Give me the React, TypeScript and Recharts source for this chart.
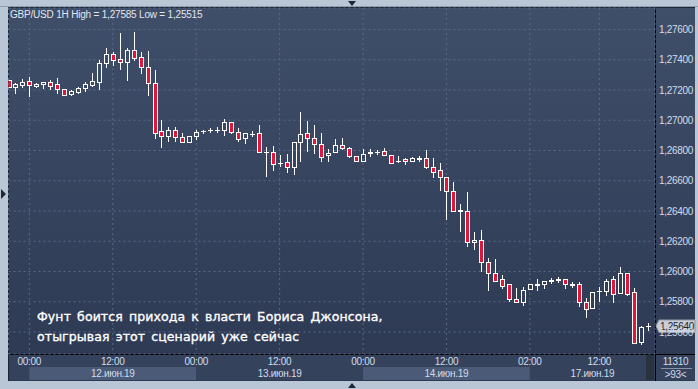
import {
  Bar,
  CartesianGrid,
  ComposedChart,
  ReferenceArea,
  ReferenceLine,
  XAxis,
  YAxis,
} from "recharts";

const RED = "#e2163a";
const WICK = "#ffffff";
const GRID = "#5a6984";
const LABEL = "#d0dcec";
const FRAME = "#b9c6d6";
const ROW = "#35425c";
const BAND = "#4b5a76";

// GBP/USD 1H, 93 visible candles (11 Jun 21:00 .. 17 Jun 19:00)
const opens = [
  1.27263, 1.27222, 1.27235, 1.2726, 1.27226, 1.27238, 1.27253, 1.2724, 1.27205, 1.27176,
  1.27189, 1.27211, 1.27233, 1.27256, 1.27377, 1.27436, 1.27403, 1.27387, 1.27462, 1.27416,
  1.2735, 1.27244, 1.26929, 1.26894, 1.26934, 1.26887, 1.26854, 1.26894, 1.26927, 1.26934,
  1.26936, 1.26936, 1.26986, 1.2692, 1.26881, 1.26909, 1.26914, 1.2679, 1.26793, 1.26715,
  1.26727, 1.26688, 1.26853, 1.26914, 1.26881, 1.26841, 1.26768, 1.26788, 1.26838, 1.26814,
  1.26762, 1.26729, 1.26785, 1.26788, 1.26795, 1.26768, 1.26731, 1.26742, 1.26729, 1.26747,
  1.26748, 1.26689, 1.26669, 1.26623, 1.26534, 1.26403, 1.26403, 1.26193, 1.26206, 1.26061,
  1.25988, 1.25948, 1.25915, 1.25816, 1.25796, 1.25881, 1.25914, 1.25915, 1.25939, 1.25947,
  1.25948, 1.25914, 1.25915, 1.25796, 1.25757, 1.2587, 1.25871, 1.25948, 1.25856, 1.25988,
  1.25862, 1.25532, 1.25638,
];
const highs = [
  1.27266, 1.27246, 1.27273, 1.27286, 1.27248, 1.27256, 1.27266, 1.27281, 1.27209, 1.272,
  1.27222, 1.27255, 1.27312, 1.27398, 1.27478, 1.27453, 1.27575, 1.27476, 1.27585, 1.27453,
  1.27458, 1.27332, 1.27002, 1.26957, 1.26957, 1.26918, 1.26899, 1.26936, 1.26936, 1.26949,
  1.26955, 1.27005, 1.26988, 1.26947, 1.26916, 1.26931, 1.26969, 1.26821, 1.2683, 1.2677,
  1.26777, 1.26856, 1.27053, 1.26995, 1.26969, 1.26914, 1.2681, 1.26876, 1.26881, 1.26825,
  1.26764, 1.26808, 1.26808, 1.26801, 1.26814, 1.2677, 1.26762, 1.26748, 1.26759, 1.26766,
  1.26803, 1.26748, 1.26717, 1.26625, 1.26592, 1.26446, 1.26526, 1.26263, 1.26274, 1.26087,
  1.26083, 1.25977, 1.25917, 1.25889, 1.25895, 1.25917, 1.25948, 1.25937, 1.25959, 1.25966,
  1.2595, 1.2593, 1.25929, 1.25823, 1.25864, 1.25899, 1.2595, 1.25972, 1.26032, 1.2599,
  1.25893, 1.2564, 1.25657,
];
const lows = [
  1.27213, 1.27172, 1.27215, 1.27156, 1.27215, 1.27207, 1.27202, 1.27176, 1.27162, 1.2716,
  1.27172, 1.27189, 1.27222, 1.27203, 1.27347, 1.27361, 1.27329, 1.27261, 1.2739, 1.27309,
  1.27162, 1.26878, 1.26818, 1.26856, 1.26856, 1.2685, 1.26848, 1.26867, 1.26909, 1.26916,
  1.26916, 1.26894, 1.26911, 1.26858, 1.26841, 1.26891, 1.26787, 1.26627, 1.26664, 1.26693,
  1.26651, 1.26638, 1.26722, 1.26792, 1.26779, 1.26722, 1.26726, 1.26787, 1.26803, 1.26748,
  1.26724, 1.26727, 1.26755, 1.2677, 1.26762, 1.26715, 1.26719, 1.26704, 1.26727, 1.26724,
  1.26676, 1.26621, 1.26534, 1.26342, 1.264, 1.26258, 1.26164, 1.26142, 1.25999, 1.25871,
  1.25932, 1.25884, 1.25796, 1.25795, 1.25774, 1.25878, 1.25873, 1.25882, 1.25915, 1.25922,
  1.25882, 1.25889, 1.25765, 1.25691, 1.25755, 1.258, 1.2584, 1.2579, 1.25854, 1.2584,
  1.25523, 1.25515, 1.25606,
];
const closes = [
  1.27218, 1.2724, 1.27253, 1.27231, 1.27242, 1.27253, 1.27228, 1.27205, 1.27169, 1.27193,
  1.27213, 1.27238, 1.2726, 1.27377, 1.27436, 1.27395, 1.27383, 1.27464, 1.27414, 1.27349,
  1.27244, 1.26914, 1.26894, 1.26934, 1.26887, 1.26854, 1.26894, 1.26922, 1.26929, 1.26936,
  1.26938, 1.26986, 1.2692, 1.26874, 1.26914, 1.26911, 1.26788, 1.26792, 1.26709, 1.26717,
  1.26688, 1.26854, 1.26907, 1.26881, 1.2684, 1.26755, 1.26781, 1.26836, 1.26814, 1.26764,
  1.26729, 1.26775, 1.26787, 1.2679, 1.26768, 1.26719, 1.26733, 1.26729, 1.26748, 1.26749,
  1.26689, 1.2666, 1.26623, 1.26529, 1.26403, 1.26405, 1.26193, 1.26208, 1.26061, 1.25988,
  1.25937, 1.25906, 1.25818, 1.25796, 1.25878, 1.25915, 1.25916, 1.25935, 1.25941, 1.25949,
  1.25915, 1.25916, 1.25796, 1.2575, 1.25862, 1.25872, 1.25939, 1.25849, 1.25988, 1.25849,
  1.25525, 1.25636, 1.2564,
];

const timeTicks = [3, 15, 27, 39, 51, 63, 75, 85];
const timeLabels = ["00:00", "12:00", "00:00", "12:00", "00:00", "12:00", "02:00", "12:00"];
const dayFrom = [3, 27, 51, 75];
const dayTo = [27, 51, 75, 93];
const dayLabels = ["12.июн.19", "13.июн.19", "14.июн.19", "17.июн.19"];
const dayShaded = [true, false, true, false];
const priceTicks = [1.276, 1.274, 1.272, 1.27, 1.268, 1.266, 1.264, 1.262, 1.26, 1.258, 1.256];
const lastPrice = 1.2564;
const title = "GBP/USD 1H High = 1,27585 Low = 1,25515";
const note = ["Фунт боится прихода к власти Бориса Джонсона,", "отыгрывая этот сценарий уже сейчас"];
const totalBars = "11310";
const shownBars = ">93<";

const Y_MIN = 1.254545;
const Y_MAX = 1.277421;
const X_MAX = 93;
// plot is 346px tall; the date strip sits 13..26px below it
const PX = (Y_MAX - Y_MIN) / 346;
const DATE_TOP = Y_MIN - 13 * PX;
const DATE_BOTTOM = Y_MIN - 26 * PX;

const rows = opens.map((o, i) => ({ i, open: o, high: highs[i], low: lows[i], close: closes[i] }));

const fmt = (v: number) => v.toFixed(5).replace(".", ",");

function Candle(props: any) {
  const { x, y, width, height, payload } = props;
  if (!payload || x == null) return null;
  const top = Math.min(y, y + height);
  const h = Math.abs(height);
  const { open, close, high, low } = payload;
  const py = (v: number) => top + ((high - v) / (high - low)) * h;
  const cx = Math.round(x + width / 2) + 0.5;
  const yH = Math.round(top);
  const yL = Math.round(top + h);
  const b1 = Math.round(py(Math.max(open, close))) + 0.5;
  const b2 = Math.round(py(Math.min(open, close))) + 0.5;
  const up = close >= open;
  if (b2 - b1 < 1) {
    return (
      <g>
        <line x1={cx} x2={cx} y1={yH} y2={yL} stroke={WICK} />
        <line x1={cx - 2.5} x2={cx + 2.5} y1={b1} y2={b1} stroke={WICK} />
      </g>
    );
  }
  return (
    <g>
      {b1 > yH && <line x1={cx} x2={cx} y1={yH} y2={b1} stroke={WICK} />}
      {yL > b2 && <line x1={cx} x2={cx} y1={b2} y2={yL} stroke={WICK} />}
      <rect x={cx - 2} y={b1} width={4} height={b2 - b1} fill={up ? "none" : RED} stroke={WICK} />
    </g>
  );
}

function PriceTag(props: any) {
  const vb = props.viewBox || {};
  const right = vb.x + vb.width;
  const yy = vb.y;
  return (
    <g>
      <polygon
        points={`${right + 1},${yy} ${right + 4},${yy - 6} ${right + 40},${yy - 6} ${right + 40},${yy + 6.5} ${right + 4},${yy + 6.5}`}
        fill="#c9ced6"
        stroke="#8e96a3"
      />
      <text x={right + 5} y={yy + 4} fill="#1b2232" fontSize={10}>
        {fmt(lastPrice)}
      </text>
    </g>
  );
}

function Tri({ left, top, dir }: { left: number; top: number; dir: "down" | "up" | "right" }) {
  const pts = dir === "down" ? "0,0 8,0 4,5" : dir === "up" ? "0,5 8,5 4,0" : "0,0 5,5 0,10";
  return (
    <svg style={{ position: "absolute", left, top }} width={dir === "right" ? 6 : 9} height={dir === "right" ? 11 : 6}>
      <polygon points={pts} fill="#1d2636" />
    </svg>
  );
}

export default function App() {
  return (
    <div
      style={{
        position: "absolute",
        left: 0,
        top: 0,
        width: 698,
        height: 389,
        background: FRAME,
        overflow: "hidden",
        fontFamily: "'Liberation Sans', Arial, sans-serif",
      }}
    >
      <div style={{ position: "absolute", left: 0, top: 6, width: 698, height: 1, background: "#8d9bb0" }} />
      <Tri left={348} top={1} dir="down" />
      <Tri left={348} top={383} dir="up" />
      <Tri left={1} top={189} dir="right" />

      {/* panel */}
      <div
        style={{
          position: "absolute",
          left: 8,
          top: 7,
          width: 687,
          height: 374,
          background: "linear-gradient(#3f4e69, #2d3953)",
          borderLeft: "1px solid #1e2636",
          borderTop: "1px solid #1e2636",
          boxSizing: "border-box",
        }}
      />
      <div style={{ position: "absolute", left: 9, top: 355, width: 646, height: 25, background: ROW }} />
      <div style={{ position: "absolute", left: 656, top: 355, width: 39, height: 25, background: ROW }} />
      <div style={{ position: "absolute", left: 655, top: 8, width: 1, height: 373, background: "#000" }} />
      <div style={{ position: "absolute", left: 9, top: 354, width: 686, height: 1, background: "#000" }} />

      <div style={{ position: "absolute", left: 0, top: 0, letterSpacing: "-0.3px" }}>
        <ComposedChart width={698} height={389} data={rows} margin={{ top: 8, right: 0, bottom: 9, left: 8.5 }}>
          <CartesianGrid stroke={GRID} strokeDasharray="2 3" />
          {dayLabels.map((d, k) => (
            <ReferenceArea
              key={d}
              x1={dayFrom[k]}
              x2={dayTo[k]}
              y1={DATE_BOTTOM}
              y2={DATE_TOP}
              fill={dayShaded[k] ? BAND : ROW}
              fillOpacity={1}
              stroke="none"
              ifOverflow="visible"
              label={{ value: d, position: "center", fill: LABEL, fontSize: 10 }}
            />
          ))}
          <XAxis
            type="number"
            dataKey="i"
            domain={[0, X_MAX]}
            allowDataOverflow
            ticks={timeTicks}
            interval={0}
            tickFormatter={(v: number) => timeLabels[timeTicks.indexOf(v)]}
            tick={{ fill: LABEL, fontSize: 10 }}
            axisLine={false}
            tickLine={false}
            tickSize={0}
            tickMargin={4}
            height={26}
          />
          <YAxis
            orientation="right"
            domain={[Y_MIN, Y_MAX]}
            allowDataOverflow
            ticks={priceTicks}
            interval={0}
            tickFormatter={fmt}
            tick={{ fill: LABEL, fontSize: 10 }}
            axisLine={false}
            tickLine={false}
            tickSize={0}
            tickMargin={4}
            width={43}
          />
          <Bar dataKey={(d: any) => [d.low, d.high]} shape={Candle} barSize={5} isAnimationActive={false} />
          <ReferenceLine y={lastPrice} stroke="none" label={PriceTag} />
        </ComposedChart>
      </div>

      <div style={{ position: "absolute", left: 646, top: 355, width: 8, height: 25, background: "#29323f" }} />

      <div style={{ position: "absolute", left: 10, top: 9, fontSize: 10, lineHeight: "12px", color: "#e1e7ef", letterSpacing: "-0.2px", whiteSpace: "nowrap" }}>
        {title}
      </div>

      <div
        style={{
          position: "absolute",
          left: 37,
          top: 307,
          fontFamily: "'DejaVu Sans', sans-serif",
          fontSize: 12.5,
          lineHeight: "20px",
          color: "#ffffff",
          whiteSpace: "nowrap",
          letterSpacing: "0.1px",
          wordSpacing: "2px",
          WebkitTextStroke: "0.35px #ffffff",
        }}
      >
        <div>{note[0]}</div>
        <div>{note[1]}</div>
      </div>

      <div style={{ position: "absolute", left: 656, top: 356, width: 39, textAlign: "center", fontSize: 10, lineHeight: "12px", color: LABEL, letterSpacing: "-0.3px" }}>
        {totalBars}
      </div>
      <div style={{ position: "absolute", left: 661, top: 368, width: 31, height: 1, background: "#8793a6" }} />
      <div style={{ position: "absolute", left: 656, top: 369, width: 39, textAlign: "center", fontSize: 10, lineHeight: "12px", color: LABEL, letterSpacing: "-0.3px" }}>
        {shownBars}
      </div>
    </div>
  );
}
